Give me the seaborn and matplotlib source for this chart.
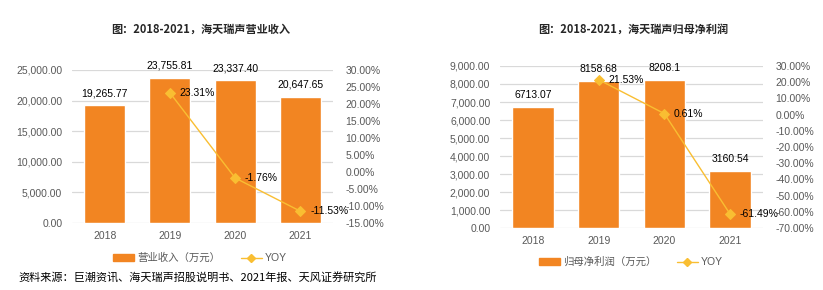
import matplotlib
matplotlib.use("Agg")
import matplotlib.pyplot as plt
import seaborn as sns
import numpy as np
import pandas as pd
from matplotlib.patches import Patch
from matplotlib.lines import Line2D

sns.set_theme(style="white")
plt.rcParams['font.family'] = ['Liberation Sans', 'Noto Sans CJK SC', 'DejaVu Sans']

years = ["2018", "2019", "2020", "2021"]
revenue = [19265.77, 23755.81, 23337.40, 20647.65]
revenue_labels = ["19,265.77", "23,755.81", "23,337.40", "20,647.65"]
rev_yoy_years = ["2019", "2020", "2021"]
rev_yoy = [23.31, -1.76, -11.53]

profit = [6713.07, 8158.68, 8208.1, 3160.54]
profit_labels = ["6713.07", "8158.68", "8208.1", "3160.54"]
prof_yoy_years = ["2019", "2020", "2021"]
prof_yoy = [21.53, 0.61, -61.49]

title_left = "图：2018-2021，海天瑞声营业收入"
title_right = "图：2018-2021，海天瑞声归母净利润"
bar_name_left = "营业收入（万元）"
bar_name_right = "归母净利润（万元）"
line_name = "YOY"
source = "资料来源：巨潮资讯、海天瑞声招股说明书、2021年报、天风证券研究所"

BAR = "#F28522"
LINE = "#F9BE32"
GRID = "#D9D9D9"
TICK = "#595959"
FS = 7.5
W, H = 823, 290

fig = plt.figure(figsize=(W / 100, H / 100), dpi=100)


def make_panel(rect, vals, vlabels, yoy_years, yoy, ylim, yticks, y2lim, y2ticks,
               lfmt, title, title_xy, bar_name, legend_xy, lbl_off):
    l, r, b, t = rect
    ax = fig.add_axes([l / W, 1 - b / H, (r - l) / W, (b - t) / H])
    df = pd.DataFrame({"year": years, "v": vals})
    sns.barplot(data=df, x="year", y="v", ax=ax, color=BAR, width=0.63,
                saturation=1, zorder=3)
    ax.set_xlim(-0.5, 3.5)
    ax.set_ylim(*ylim)
    ax.set_yticks(yticks)
    ax.set_yticklabels([lfmt(v) for v in yticks], fontsize=FS, color=TICK)
    ax.set_xticks(range(len(years)))
    ax.set_xticklabels(years, fontsize=FS, color=TICK)
    ax.set_xlabel("")
    ax.set_ylabel("")
    for s in ax.spines.values():
        s.set_visible(False)
    ax.grid(axis="y", color=GRID, linewidth=0.9, zorder=0)
    ax.set_axisbelow(True)
    ax.tick_params(axis="both", length=0)
    ax.tick_params(axis="y", pad=7)
    ax.tick_params(axis="x", pad=6)
    for i, (v, s) in enumerate(zip(vals, vlabels)):
        ax.annotate(s, (i, v), xytext=(0, lbl_off), textcoords="offset points",
                    ha="center", va="bottom", fontsize=FS, color="black")

    ax2 = ax.twinx()
    xs = [years.index(y) for y in yoy_years]
    sns.lineplot(x=xs, y=yoy, ax=ax2, color=LINE, linewidth=1.0, marker="D",
                 markersize=5, markeredgecolor=LINE, zorder=5)
    ax2.set_ylim(*y2lim)
    ax2.set_yticks(y2ticks)
    ax2.set_yticklabels([f"{v:.2f}%" for v in y2ticks], fontsize=FS, color=TICK)
    for s in ax2.spines.values():
        s.set_visible(False)
    ax2.tick_params(axis="y", length=0, pad=9)
    ax2.set_xlim(-0.5, 3.5)
    for x, v in zip(xs, yoy):
        ax2.annotate(f"{v:.2f}%", (x, v), xytext=(7, 0), textcoords="offset points",
                     ha="left", va="center", fontsize=FS, color="black", zorder=6)

    fig.text(title_xy[0] / W, 1 - title_xy[1] / H, title, ha="center", va="center",
             fontsize=8, fontweight="bold", family=['Noto Sans CJK SC', 'DejaVu Sans'])

    handles = [Patch(facecolor=BAR, edgecolor=BAR),
               Line2D([0], [0], color=LINE, linewidth=1.0, marker="D", markersize=4)]
    leg = fig.legend(handles, [bar_name, line_name], loc="center",
                     bbox_to_anchor=(legend_xy[0] / W, 1 - legend_xy[1] / H),
                     ncol=2, frameon=False, fontsize=FS, handlelength=2.0,
                     handleheight=0.6, columnspacing=2.0, handletextpad=0.3)
    for txt in leg.get_texts():
        txt.set_color(TICK)
    return ax


make_panel((72, 333, 223, 70), revenue, revenue_labels, rev_yoy_years, rev_yoy,
           (0, 25000), np.arange(0, 25001, 5000), (-15, 30), np.arange(-15, 31, 5),
           lambda v: f"{v:,.2f}", title_left, (201, 29), bar_name_left, (200, 258), 5)

make_panel((500, 763, 228, 66), profit, profit_labels, prof_yoy_years, prof_yoy,
           (0, 9000), np.arange(0, 9001, 1000), (-70, 30), np.arange(-70, 31, 10),
           lambda v: f"{v:,.2f}", title_right, (633, 29), bar_name_right, (631, 262), 5)

fig.text(18 / W, 1 - 278 / H, source, ha="left", va="center", fontsize=8,
         color="black", family=['Noto Sans CJK SC', 'DejaVu Sans'])

fig.savefig("out.png", dpi=100)
